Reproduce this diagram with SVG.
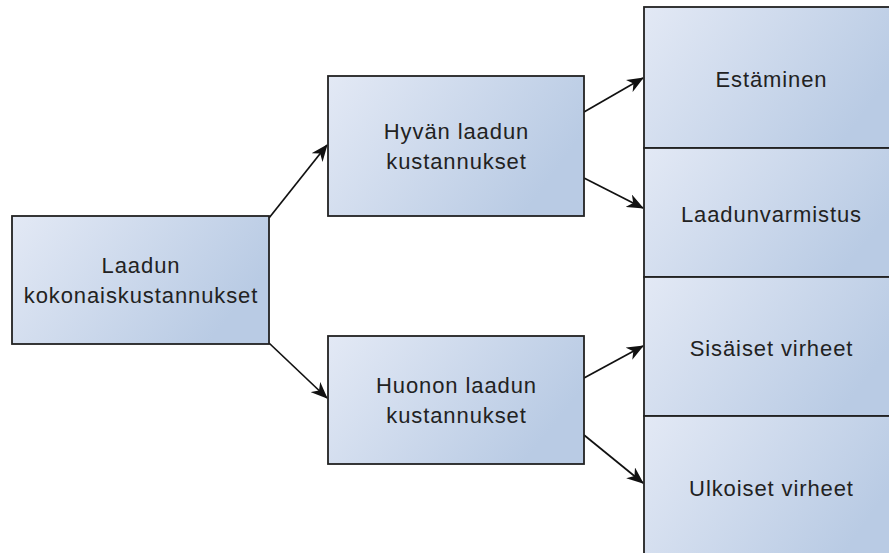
<svg xmlns="http://www.w3.org/2000/svg" width="889" height="553" viewBox="0 0 889 553">
<defs>
<linearGradient id="g" x1="0" y1="0" x2="1" y2="0.4">
<stop offset="0" stop-color="#e3e9f5"/>
<stop offset="1" stop-color="#b9cbe4"/>
</linearGradient>
<marker id="ah" markerWidth="17" markerHeight="14" refX="16" refY="7" orient="auto" markerUnits="userSpaceOnUse">
<path d="M0,0 L17,7 L0,14 L5,7 Z" fill="#111"/>
</marker>
<style>
rect{fill:url(#g);stroke:#222;stroke-width:1.8}
text{font-family:"Liberation Sans",Arial,sans-serif;font-size:22px;letter-spacing:0.9px;fill:#222;text-anchor:middle}
.c line{stroke:#111;stroke-width:1.7;marker-end:url(#ah)}
</style>
</defs>
<rect x="0" y="0" width="889" height="553" style="fill:#fff;stroke:none"/>
<g class="c" id="connectors">
<line x1="269" y1="218" x2="327" y2="145"/>
<line x1="269" y1="343" x2="327" y2="398"/>
<line x1="584" y1="112" x2="643" y2="78"/>
<line x1="584" y1="178" x2="643" y2="208"/>
<line x1="584" y1="378" x2="643" y2="346"/>
<line x1="584" y1="435" x2="643" y2="483"/>
</g>
<g id="n-total"><rect x="12" y="216" width="257" height="128"/><text x="141" y="273">Laadun</text><text x="141" y="303">kokonaiskustannukset</text></g>
<g id="n-good"><rect x="328" y="76" width="256" height="140"/><text x="456.5" y="139">Hyvän laadun</text><text x="456.5" y="169">kustannukset</text></g>
<g id="n-poor"><rect x="328" y="336" width="256" height="128"/><text x="456.5" y="393">Huonon laadun</text><text x="456.5" y="423">kustannukset</text></g>
<g id="n-est"><rect x="644" y="7" width="256" height="141"/><text x="771.5" y="87">Estäminen</text></g>
<g id="n-laa"><rect x="644" y="148" width="256" height="129"/><text x="771.5" y="222">Laadunvarmistus</text></g>
<g id="n-sis"><rect x="644" y="277" width="256" height="139"/><text x="771.5" y="356">Sisäiset virheet</text></g>
<g id="n-ulk"><rect x="644" y="416" width="256" height="145"/><text x="771.5" y="496">Ulkoiset virheet</text></g>
</svg>
